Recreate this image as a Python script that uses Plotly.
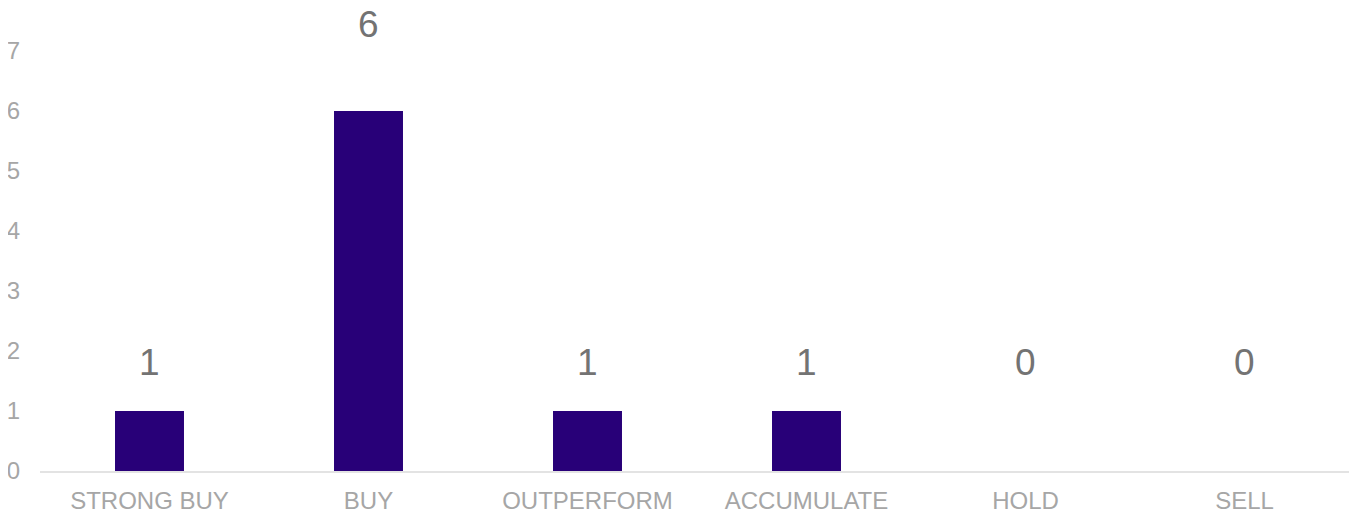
import plotly.graph_objects as go

categories = ["STRONG BUY", "BUY", "OUTPERFORM", "ACCUMULATE", "HOLD", "SELL"]
counts = [1, 6, 1, 1, 0, 0]
y_ticks = [0, 1, 2, 3, 4, 5, 6, 7]

# pixel offsets for the value labels (styling only)
label_shift = [49, 87, 49, 49, 109, 109]

fig = go.Figure()
fig.add_trace(go.Bar(
    x=categories,
    y=counts,
    marker=dict(color="#280078", line=dict(width=0)),
    hoverinfo="x+y",
))

for cat, val, sh in zip(categories, counts, label_shift):
    fig.add_annotation(
        x=cat, y=val, text=str(val), showarrow=False,
        yanchor="middle", xanchor="center", yshift=sh,
        font=dict(family="Liberation Sans, Arial, sans-serif", size=37, color="#737373"),
    )

fig.update_layout(
    width=1357, height=519,
    margin=dict(l=32, r=11, t=43, b=56),
    paper_bgcolor="white", plot_bgcolor="white",
    bargap=0.685,
    showlegend=False,
    font=dict(family="Liberation Sans, Arial, sans-serif", color="#a6a6a6"),
    xaxis=dict(
        showgrid=False, showline=True, linecolor="#e3e3e3", linewidth=2,
        ticks="", tickfont=dict(size=24, color="#a6a6a6"),
        ticklabelstandoff=7, automargin=False,
    ),
    yaxis=dict(
        range=[0, 7], tickvals=y_ticks, showgrid=False, zeroline=False,
        showline=False, ticks="", tickfont=dict(size=24, color="#a6a6a6"),
        ticklabelstandoff=19, automargin=False,
    ),
)

fig.write_html("out.html")
